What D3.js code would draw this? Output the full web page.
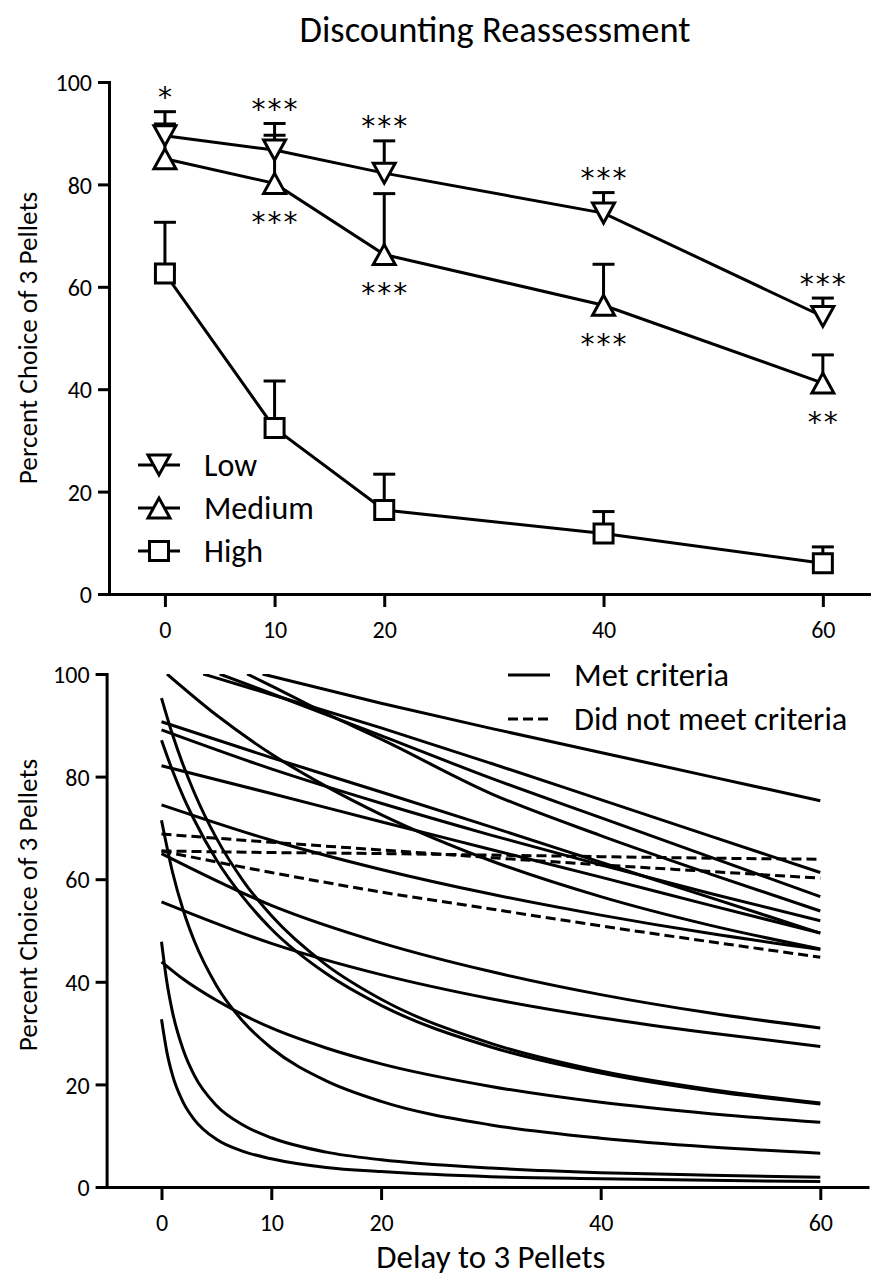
<!DOCTYPE html>
<html><head><meta charset="utf-8">
<script src="https://cdn.jsdelivr.net/npm/d3@7"></script>
<style>
body{margin:0;background:#fff}
text{font-family:Carlito,Lato,sans-serif;fill:#000}
text.star{font-family:"DejaVu Sans",sans-serif;letter-spacing:2px}
</style>
</head><body>
<svg id="c" width="871" height="1281"></svg>
<script>
// ---------- data: top panel ----------
const delays = [0, 10, 20, 40, 60];
const seriesNames = ["Low", "Medium", "High"];
const lowMean = [89.5, 86.7, 82.2, 74.4, 54.2];
const lowSem = [4.7, 5.2, 6.3, 4.0, 3.6];
const medMean = [85.0, 80.2, 66.3, 56.4, 41.2];
const medSem = [6.8, 9.4, 11.9, 8.0, 5.5];
const highMean = [62.6, 32.4, 16.4, 11.8, 6.0];
const highSem = [10.0, 9.2, 7.0, 4.3, 3.2];
const sigAbove = ["*", "***", "***", "***", "***"];   // above Low
const sigBelow = ["", "***", "***", "***", "**"];     // below Medium
const yTicks = [0, 20, 40, 60, 80, 100];
const xTicks = [0, 10, 20, 40, 60];

// ---------- data: bottom panel (individual fitted curves, [delay, percent]) ----------
const metCurves = [
  [[9.2,100],[20,94.3],[30,89.4],[40,84.7],[50,80.0],[60,75.3]],
  [[0.5,100],[5,92.0],[10,84.4],[15,78.1],[20,72.6],[30,63.6],[40,56.6],[50,51.0],[60,46.4]],
  [[3.8,100],[10,96.0],[20,89.5],[30,82.6],[40,75.5],[50,68.4],[60,61.3]],
  [[5.3,100],[10,96.2],[20,88.0],[30,79.7],[40,72.0],[50,64.3],[60,56.6]],
  [[7.8,100],[10,97.7],[15,92.3],[20,87.3],[30,76.7],[40,68.5],[50,61.0],[60,53.8]],
  [[0,95.3],[1,88.2],[2,82.1],[3,76.8],[5,68.0],[7.5,59.5],[10,52.9],[15,43.3],[20,36.6],[30,28.0],[40,22.6],[50,19.0],[60,16.4]],
  [[0,87.1],[1,81.2],[2,76.0],[3,71.5],[5,63.8],[7.5,56.3],[10,50.3],[15,41.6],[20,35.4],[30,27.3],[40,22.2],[50,18.7],[60,16.2]],
  [[0,90.7],[10,83.7],[20,77.0],[30,70.2],[40,63.3],[50,56.4],[60,49.5]],
  [[0,89.1],[10,81.5],[20,74.8],[30,68.6],[40,62.8],[50,57.2],[60,51.9]],
  [[0,82.1],[10,76.7],[20,71.2],[30,65.8],[40,60.4],[50,54.9],[60,49.5]],
  [[0,74.5],[10,67.6],[20,61.9],[30,57.1],[40,53.0],[50,49.4],[60,46.3]],
  [[0,71.5],[1,61.4],[2,53.8],[3,47.9],[5,39.3],[7.5,32.1],[10,27.1],[15,20.7],[20,16.7],[30,12.1],[40,9.5],[50,7.8],[60,6.6]],
  [[0,65.0],[10,54.9],[20,47.6],[30,42.0],[40,37.5],[50,33.9],[60,31.0]],
  [[0,55.6],[10,47.5],[20,41.4],[30,36.7],[40,33.0],[50,30.0],[60,27.4]],
  [[0,47.8],[0.5,39.8],[1,34.1],[2,26.6],[3,21.7],[5,15.9],[7.5,12.0],[10,9.6],[15,6.8],[20,5.3],[30,3.7],[40,2.8],[50,2.3],[60,1.9]],
  [[0,43.9],[2,40.5],[5,36.4],[10,31.0],[15,27.1],[20,24.0],[30,19.6],[40,16.5],[50,14.3],[60,12.6]],
  [[0,32.7],[0.5,26.2],[1,21.8],[2,16.4],[3,13.1],[5,9.3],[7.5,6.9],[10,5.5],[15,3.8],[20,3.0],[30,2.0],[40,1.6],[50,1.3],[60,1.05]]
];
const notMetCurves = [
  [[0,68.8],[10,67.2],[20,65.7],[30,64.2],[40,62.8],[50,61.5],[60,60.2]],
  [[0,65.5],[10,65.2],[20,65.0],[30,64.7],[40,64.4],[50,64.1],[60,63.9]],
  [[0,65.5],[10,61.3],[20,57.5],[30,54.2],[40,50.9],[50,47.8],[60,44.8]]
];
const curveLegend = ["Met criteria", "Did not meet criteria"];
const titleText = "Discounting Reassessment";
const yTitle = "Percent Choice of 3 Pellets";
const xTitle = "Delay to 3 Pellets";

// ---------- drawing ----------
const svg = d3.select("#c");
const SW = 3;

function drawAxes(g, x, y, xAxisY, yAxisX) {
  const ax = g.append("g").attr("transform", `translate(0,${xAxisY})`)
    .call(d3.axisBottom(x).tickValues(xTicks).tickSize(13).tickSizeOuter(0).tickPadding(14));
  const ay = g.append("g").attr("transform", `translate(${yAxisX},0)`)
    .call(d3.axisLeft(y).tickValues(yTicks).tickSize(11).tickSizeOuter(0).tickPadding(6));
  [ax, ay].forEach(a => {
    a.select(".domain").attr("stroke", "#000").attr("stroke-width", SW).attr("stroke-linecap", "square");
    a.selectAll(".tick line").attr("stroke", "#000").attr("stroke-width", SW);
    a.selectAll(".tick text").attr("font-size", 24).attr("fill", "#000");
  });
  ay.selectAll(".tick text").attr("dy", "0.36em");
}

function markerPath(type, cx, cy) {
  if (type === "Low") return `M${cx-11},${cy-10}L${cx+11},${cy-10}L${cx},${cy+10}Z`;
  if (type === "Medium") return `M${cx-11},${cy+10}L${cx+11},${cy+10}L${cx},${cy-10}Z`;
  return `M${cx-9.5},${cy-9.5}H${cx+9.5}V${cy+9.5}H${cx-9.5}Z`;
}

// title
svg.append("text").attr("x", 495).attr("y", 42).attr("text-anchor", "middle")
  .attr("font-size", 36.5).text(titleText);

// ---- top panel ----
const xTop = d3.scaleLinear().domain([-5.1, 64.3]).range([109, 870]);
const yTop = d3.scaleLinear().domain([0, 100]).range([594, 82]);
const gTop = svg.append("g");
drawAxes(gTop, xTop, yTop, 594, 109);

svg.append("text").attr("transform", `translate(37,${yTop(50)}) rotate(-90)`)
  .attr("text-anchor", "middle").attr("font-size", 27.2).text(yTitle);

const seriesData = [
  {name: "Low", mean: lowMean, sem: lowSem},
  {name: "Medium", mean: medMean, sem: medSem},
  {name: "High", mean: highMean, sem: highSem}
];
const lineTop = d3.line().x((d, i) => xTop(delays[i])).y(d => yTop(d));
seriesData.forEach(s => {
  gTop.append("path").attr("d", lineTop(s.mean)).attr("fill", "none")
    .attr("stroke", "#000").attr("stroke-width", SW);
});
seriesData.forEach(s => {
  s.mean.forEach((m, i) => {
    const cx = xTop(delays[i]), y0 = yTop(m), y1 = yTop(m + s.sem[i]);
    gTop.append("line").attr("x1", cx).attr("x2", cx).attr("y1", y0).attr("y2", y1)
      .attr("stroke", "#000").attr("stroke-width", SW);
    gTop.append("line").attr("x1", cx - 11).attr("x2", cx + 11).attr("y1", y1).attr("y2", y1)
      .attr("stroke", "#000").attr("stroke-width", SW);
  });
});
seriesData.forEach(s => {
  s.mean.forEach((m, i) => {
    gTop.append("path").attr("d", markerPath(s.name, xTop(delays[i]), yTop(m)))
      .attr("fill", "#fff").attr("stroke", "#000").attr("stroke-width", SW);
  });
});
// significance stars (letter-spacing trails the last glyph, so shift by half of it)
sigAbove.forEach((t, i) => {
  if (!t) return;
  gTop.append("text").attr("class", "star").attr("x", xTop(delays[i]) + 1)
    .attr("y", yTop(lowMean[i] + lowSem[i]) - 21 + 16.5)
    .attr("text-anchor", "middle").attr("font-size", 28).text(t);
});
sigBelow.forEach((t, i) => {
  if (!t) return;
  gTop.append("text").attr("class", "star").attr("x", xTop(delays[i]) + 1)
    .attr("y", yTop(medMean[i]) + 32 + 16.5)
    .attr("text-anchor", "middle").attr("font-size", 28).text(t);
});
// legend
seriesNames.forEach((n, i) => {
  const ly = 465 + i * 43;
  gTop.append("line").attr("x1", 138).attr("x2", 180).attr("y1", ly).attr("y2", ly)
    .attr("stroke", "#000").attr("stroke-width", SW);
  gTop.append("path").attr("d", markerPath(n, 159, ly))
    .attr("fill", "#fff").attr("stroke", "#000").attr("stroke-width", SW);
  gTop.append("text").attr("x", 204).attr("y", ly + 11).attr("font-size", 32).text(n);
});

// ---- bottom panel ----
const xBot = d3.scaleLinear().domain([-5, 64.3]).range([106.6, 867.5]);
const yBot = d3.scaleLinear().domain([0, 100]).range([1187, 674]);
const gBot = svg.append("g");
drawAxes(gBot, xBot, yBot, 1187, 106.6);

svg.append("text").attr("transform", `translate(37,905) rotate(-90)`)
  .attr("text-anchor", "middle").attr("font-size", 27.2).text(yTitle);
svg.append("text").attr("x", xBot(30)).attr("y", 1268).attr("text-anchor", "middle")
  .attr("font-size", 32.9).text(xTitle);

svg.append("clipPath").attr("id", "clipB").append("rect")
  .attr("x", 106.6).attr("y", yBot(100)).attr("width", 770).attr("height", yBot(0) - yBot(100));
const lineBot = d3.line().x(d => xBot(d[0])).y(d => yBot(d[1])).curve(d3.curveMonotoneX);
const gCurves = gBot.append("g").attr("clip-path", "url(#clipB)");
metCurves.forEach(c => {
  gCurves.append("path").attr("d", lineBot(c)).attr("fill", "none")
    .attr("stroke", "#000").attr("stroke-width", SW);
});
notMetCurves.forEach(c => {
  gCurves.append("path").attr("d", lineBot(c)).attr("fill", "none")
    .attr("stroke", "#000").attr("stroke-width", SW).attr("stroke-dasharray", "10,5");
});
// legend
curveLegend.forEach((n, i) => {
  const ly = 675 + i * 44;
  gBot.append("line").attr("x1", 508).attr("x2", 550).attr("y1", ly).attr("y2", ly)
    .attr("stroke", "#000").attr("stroke-width", SW)
    .attr("stroke-dasharray", i === 1 ? "10,5" : null);
  gBot.append("text").attr("x", 574).attr("y", ly + 11).attr("font-size", 32.4).text(n);
});
</script>
</body></html>
